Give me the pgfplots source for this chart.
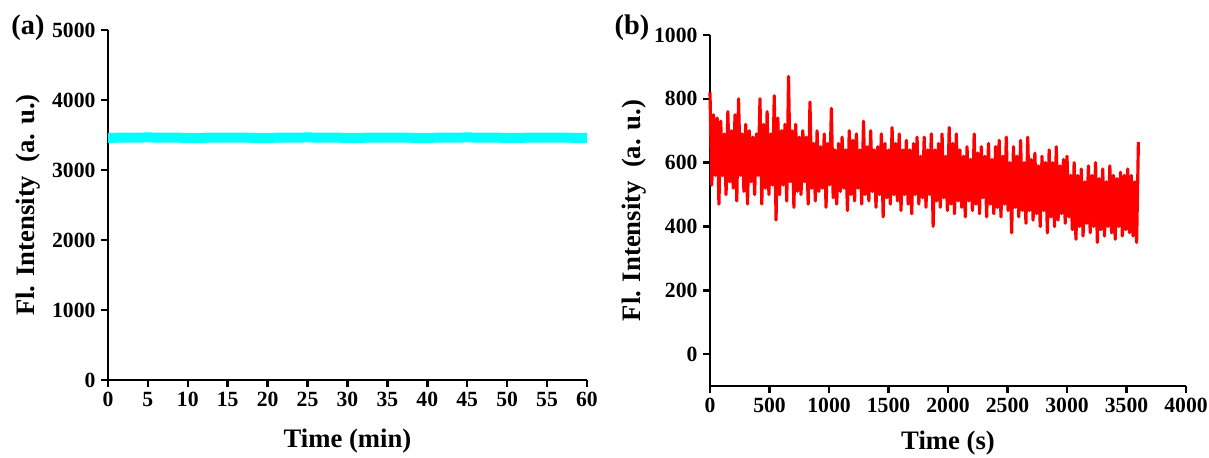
\documentclass[border=0pt]{standalone}
\usepackage{fontspec}
\setmainfont{Liberation Serif}
\usepackage{pgfplots}
\pgfplotsset{compat=1.18}

\definecolor{cyanline}{RGB}{0,255,255}
\definecolor{redline}{RGB}{255,0,0}

\pgfplotsset{
  panel/.style={
    scale only axis,
    axis x line*=bottom, axis y line*=left,
    axis line style={line width=1.5pt},
    every tick/.style={line width=1.5pt,black},
    tick align=outside, major tick length=4pt,
    minor tick num=0,
    /pgf/number format/assume math mode=true,
    /pgf/number format/1000 sep={},
    tick label style={font=\bfseries\fontsize{13}{13}\selectfont},
    label style={font=\bfseries\fontsize{16}{16}\selectfont},
    clip=false,
  }
}

\begin{document}
\begin{tikzpicture}
\useasboundingbox (0,0) rectangle (725.4pt,-274.2pt);

% (a) stability over one hour
\begin{axis}[panel,
  at={(64.8pt,-228pt)}, anchor=south west,
  width=287.4pt, height=210pt,
  xmin=0, xmax=60, ymin=0, ymax=5000,
  xtick={0,5,...,60}, ytick={0,1000,...,5000},
  xlabel={Time (min)}, ylabel={Fl. Intensity\ \ (a. u.)},
  xlabel style={yshift=-6pt},
  ylabel style={yshift=0pt},
]
\addplot[cyanline, line width=6pt] coordinates {
(0,3460)(5,3465)(10,3460)(15,3462)(20,3460)(25,3465)(30,3460)
(35,3462)(40,3460)(45,3465)(50,3460)(55,3462)(60,3460)};
\end{axis}

% (b) trace over 3600 s
\begin{axis}[panel,
  at={(426pt,-231.6pt)}, anchor=south west,
  width=285.6pt, height=210.6pt,
  xmin=0, xmax=4000, ymin=-100, ymax=1000,
  xtick={0,500,...,4000}, ytick={0,200,...,1000},
  xlabel={Time (s)}, ylabel={Fl. Intensity\ \ (a. u.)},
  xlabel style={yshift=-4pt},
  ylabel style={yshift=-2pt},
]
\addplot[redline, line width=1.9pt, line join=round] coordinates {
(0,820)(15,530)(30,750)(45,560)(60,740)(75,470)(90,730)(105,560)(120,690)(135,500)
(150,760)(165,540)(180,700)(195,520)(210,750)(225,480)(240,800)(255,560)(270,690)(285,510)
(300,720)(315,470)(330,700)(345,540)(360,680)(375,500)(390,690)(405,560)(420,800)(435,470)
(450,720)(465,520)(480,760)(495,500)(510,690)(525,530)(540,810)(555,420)(570,740)(585,500)
(600,700)(615,530)(630,720)(645,480)(660,870)(675,540)(690,700)(705,460)(720,720)(735,510)
(750,680)(765,500)(780,700)(795,540)(810,680)(825,470)(840,790)(855,520)(870,660)(885,480)
(900,700)(915,510)(930,650)(945,520)(960,690)(975,460)(990,660)(1005,530)(1020,770)(1035,490)
(1050,640)(1065,470)(1080,660)(1095,510)(1110,680)(1125,520)(1140,640)(1155,450)(1170,700)(1185,500)
(1200,670)(1215,480)(1230,690)(1245,520)(1260,640)(1275,470)(1290,730)(1305,500)(1320,650)(1335,480)
(1350,700)(1365,510)(1380,640)(1395,460)(1410,650)(1425,500)(1440,690)(1455,430)(1470,660)(1485,490)
(1500,640)(1515,470)(1530,710)(1545,500)(1560,660)(1575,480)(1590,690)(1605,450)(1620,640)(1635,500)
(1650,670)(1665,470)(1680,640)(1695,440)(1710,660)(1725,500)(1740,680)(1755,470)(1770,620)(1785,490)
(1800,680)(1815,460)(1830,640)(1845,500)(1860,690)(1875,400)(1890,640)(1905,480)(1920,660)(1935,460)
(1950,690)(1965,490)(1980,620)(1995,450)(2010,710)(2025,470)(2040,660)(2055,440)(2070,690)(2085,480)
(2100,640)(2115,460)(2130,620)(2145,430)(2160,650)(2175,480)(2190,610)(2205,450)(2220,690)(2235,470)
(2250,630)(2265,440)(2280,650)(2295,490)(2310,620)(2325,430)(2340,660)(2355,470)(2370,610)(2385,440)
(2400,650)(2415,460)(2430,670)(2445,430)(2460,620)(2475,470)(2490,680)(2505,450)(2520,600)(2535,380)
(2550,650)(2565,460)(2580,620)(2595,430)(2610,670)(2625,450)(2640,600)(2655,410)(2670,680)(2685,450)
(2700,610)(2715,420)(2730,630)(2745,440)(2760,590)(2775,400)(2790,620)(2805,450)(2820,600)(2835,380)
(2850,640)(2865,430)(2880,600)(2895,400)(2910,650)(2925,420)(2940,590)(2955,440)(2970,610)(2985,410)
(3000,620)(3015,430)(3030,560)(3045,390)(3060,600)(3075,360)(3090,560)(3105,400)(3120,580)(3135,370)
(3150,540)(3165,410)(3180,590)(3195,380)(3210,560)(3225,400)(3240,600)(3255,350)(3270,550)(3285,390)
(3300,580)(3315,370)(3330,540)(3345,400)(3360,590)(3375,380)(3390,560)(3405,360)(3420,550)(3435,400)
(3450,570)(3465,370)(3480,560)(3495,390)(3510,580)(3525,380)(3540,560)(3555,370)(3570,540)(3585,350)
(3600,665)};
\end{axis}

\node[font=\bfseries\fontsize{17}{17}\selectfont] at (16.8pt,-16.8pt) {(a)};
\node[font=\bfseries\fontsize{17}{17}\selectfont] at (379.2pt,-16.8pt) {(b)};
\end{tikzpicture}
\end{document}
